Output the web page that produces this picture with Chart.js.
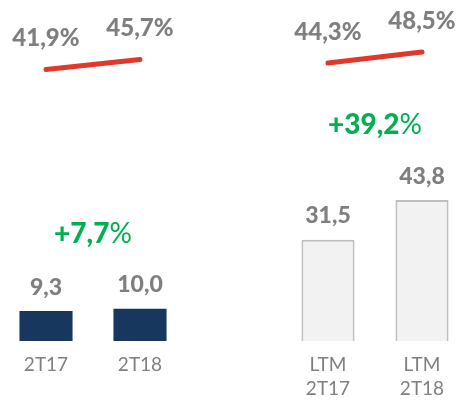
<!DOCTYPE html>
<html>
<head>
<meta charset="utf-8">
<script src="https://cdn.jsdelivr.net/npm/chart.js@4.4.1/dist/chart.umd.min.js"></script>
<style>
  html, body { margin: 0; padding: 0; background: #fff; overflow: hidden; }
  #wrap { position: relative; width: 470px; height: 400px; margin-left: -1px; }
</style>
</head>
<body>
<div id="wrap"><canvas id="graphVolume"></canvas></div>
<script>
// values
var categories = ['2T17', '2T18', 'LTM 2T17', 'LTM 2T18'];
var volume = [9.3, 10.0, 31.5, 43.8];
var margin = [41.9, 45.7, 44.3, 48.5];
var growth = ['+7,7', '+39,2'];

var gray = '#7f7f7f';
var green = '#00b050';
var fontName = 'Lato';

function fmt(v){
    return v.toFixed(1).replace('.', ',');
}

// one empty slot between the quarter pair and the LTM pair
function withGap(arr, gap){
    return [arr[0], arr[1], gap, arr[2], arr[3]];
}

var labels = withGap(categories.map(function(c){ return c.split(' '); }), '');

var labelPlugin = {
    id: 'labelPlugin',
    afterDatasetsDraw: function(chart){
        var ctx = chart.ctx;
        var bars = chart.getDatasetMeta(0).data;
        var line = chart.getDatasetMeta(1).data;
        var barVals = chart.data.datasets[0].data;
        var lineVals = chart.data.datasets[1].data;
        ctx.save();
        ctx.textAlign = 'center';
        ctx.textBaseline = 'middle';
        ctx.fillStyle = gray;

        ctx.font = '900 23px ' + fontName;
        barVals.forEach(function(v, i){
            if(v == null) return;
            ctx.fillText(fmt(v), bars[i].x, bars[i].y - 24);
        });

        ctx.font = '900 24px ' + fontName;
        lineVals.forEach(function(v, i){
            if(v == null) return;
            ctx.fillText(fmt(v) + '%', line[i].x, line[i].y - 31);
        });

        // growth between each pair
        [[0, 1], [3, 4]].forEach(function(p, k){
            var a = bars[p[0]], b = bars[p[1]];
            var x = (a.x + b.x) / 2;
            var y = Math.min(a.y, b.y) - 75;
            var main = growth[k];
            ctx.font = '900 28px ' + fontName;
            var w1 = ctx.measureText(main).width;
            ctx.font = '28px ' + fontName;
            var w2 = ctx.measureText('%').width;
            var left = x - (w1 + w2) / 2;
            ctx.textAlign = 'left';
            ctx.fillStyle = green;
            ctx.font = '900 28px ' + fontName;
            ctx.fillText(main, left, y);
            ctx.font = '28px ' + fontName;
            ctx.fillText('%', left + w1, y);
            ctx.textAlign = 'center';
        });
        ctx.restore();
    }
};

var graphVolume = new Chart('graphVolume', {
    type: 'bar',
    data: {
        labels: labels,
        datasets: [{
            type: 'bar',
            data: withGap(volume, null),
            backgroundColor: withGap(['#17375e', '#17375e', '#f2f2f2', '#f2f2f2'], null),
            borderColor: withGap(['#17375e', '#17375e', '#bfbfbf', '#bfbfbf'], null),
            borderWidth: withGap([0, 0, 2, 2], 0),
            barPercentage: 0.565,
            categoryPercentage: 1,
            yAxisID: 'y',
            order: 2
        }, {
            type: 'line',
            data: withGap(margin, null),
            borderColor: '#e0392b',
            borderWidth: 5,
            borderCapStyle: 'round',
            pointRadius: 0,
            spanGaps: false,
            yAxisID: 'y2',
            order: 1
        }]
    },
    options: {
        responsive: true,
        maintainAspectRatio: false,
        animation: false,
        layout: { padding: 0 },
        plugins: {
            legend: { display: false },
            tooltip: { enabled: false }
        },
        scales: {
            x: {
                grid: { display: false, drawTicks: false },
                border: { display: false },
                ticks: {
                    color: gray,
                    padding: 12,
                    maxRotation: 0,
                    autoSkip: false,
                    font: { family: fontName, size: 19, lineHeight: 1.25 }
                },
                afterFit: function(scale){ scale.height = 59; }
            },
            y: { display: false, min: 0, max: 106 },
            y2: { display: false, min: -61.4, max: 68.3 }
        }
    },
    plugins: [labelPlugin]
});
</script>
</body>
</html>
